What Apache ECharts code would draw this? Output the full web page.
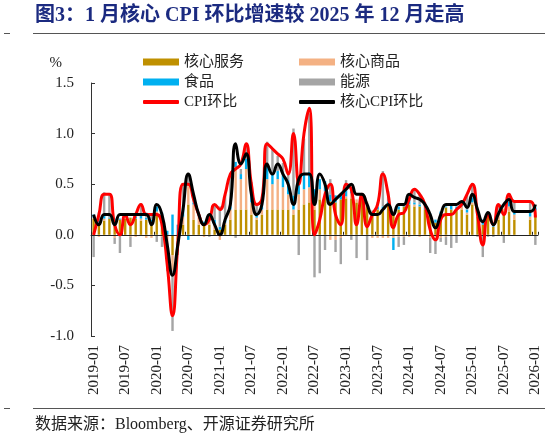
<!DOCTYPE html>
<html><head><meta charset="utf-8">
<script src="https://cdn.jsdelivr.net/npm/echarts@6.0.0/dist/echarts.min.js"></script>
<style>html,body{margin:0;padding:0;background:#fff}#c{width:550px;height:441px}</style>
</head><body><div id="c"></div>
<script>
// categories: 2019-01 .. 2026-01
var months = [];
for (var y = 2019; y <= 2026; y++) {
  for (var m = 1; m <= 12; m++) {
    if (y === 2026 && m > 1) break;
    months.push(y + '-' + (m < 10 ? '0' + m : m));
  }
}
var yTicks = [-1.0, -0.5, 0.0, 0.5, 1.0, 1.5];

// CPI m/m (%), 2019-01 .. 2026-01 (2025-10/11 not published)
var cpiMoM = [
  0.0, 0.2, 0.4, 0.4, 0.1, 0.0, 0.2, 0.1, 0.2, 0.3, 0.2, 0.2,
  0.2, 0.1, -0.3, -0.8, -0.1, 0.5, 0.5, 0.35, 0.2, 0.1, 0.15, 0.3,
  0.25, 0.4, 0.6, 0.65, 0.7, 0.9, 0.5, 0.3, 0.35, 0.9, 0.85, 0.8,
  0.75, 0.6, 1.0, 0.5, 1.0, 1.25, 0.0, 0.15, 0.4, 0.5, 0.2, 0.1,
  0.5, 0.45, 0.1, 0.4, 0.08, 0.2, 0.3, 0.6, 0.4, 0.07, 0.2, 0.22,
  0.35, 0.45, 0.4, 0.3, 0.05, -0.05, 0.15, 0.2, 0.2, 0.25, 0.3, 0.4,
  0.5, 0.2, -0.1, 0.2, 0.1, 0.3, 0.2, 0.4, 0.33, null, null, 0.33,
  0.17
];
var coreMoM = [
  0.2, 0.1, 0.2, 0.2, 0.1, 0.2, 0.2, 0.2, 0.2, 0.2, 0.2, 0.1,
  0.3, 0.2, -0.1, -0.4, -0.1, 0.25, 0.6, 0.4, 0.2, 0.1, 0.2, 0.1,
  0.0, 0.15, 0.3, 0.9, 0.7, 0.8, 0.4, 0.2, 0.3, 0.7, 0.6, 0.7,
  0.6, 0.5, 0.3, 0.55, 0.6, 0.6, 0.3, 0.6, 0.5, 0.3, 0.35, 0.4,
  0.45, 0.5, 0.4, 0.4, 0.3, 0.2, 0.2, 0.25, 0.3, 0.2, 0.3, 0.3,
  0.4, 0.37, 0.35, 0.3, 0.2, 0.07, 0.2, 0.3, 0.3, 0.3, 0.33, 0.27,
  0.4, 0.25, 0.13, 0.22, 0.1, 0.21, 0.3, 0.35, 0.23, null, null, 0.23,
  0.3
];
// contributions (pct pt)
var coreServices = [
  0.16, 0.10, 0.14, 0.16, 0.12, 0.15, 0.16, 0.17, 0.16, 0.14, 0.15, 0.12,
  0.20, 0.18, 0.00, -0.20, -0.05, 0.10, 0.30, 0.15, 0.10, 0.10, 0.10, 0.05,
  0.05, 0.10, 0.15, 0.25, 0.25, 0.25, 0.20, 0.15, 0.20, 0.25, 0.25, 0.25,
  0.25, 0.25, 0.20, 0.25, 0.30, 0.32, 0.25, 0.35, 0.38, 0.33, 0.32, 0.35,
  0.36, 0.36, 0.32, 0.35, 0.30, 0.20, 0.25, 0.25, 0.30, 0.20, 0.25, 0.28,
  0.30, 0.28, 0.28, 0.25, 0.20, 0.12, 0.20, 0.27, 0.25, 0.25, 0.25, 0.20,
  0.30, 0.18, 0.10, 0.18, 0.08, 0.15, 0.22, 0.23, 0.15, null, null, 0.15,
  0.20
];
var coreGoods = [
  0.01, -0.02, 0.02, 0.00, -0.03, 0.00, 0.02, -0.02, -0.02, 0.02, -0.03, -0.03,
  0.03, -0.02, -0.08, -0.15, -0.03, 0.08, 0.18, 0.15, 0.08, -0.02, 0.05, 0.05,
  -0.05, 0.02, 0.10, 0.42, 0.30, 0.40, 0.12, 0.02, 0.05, 0.30, 0.25, 0.30,
  0.22, 0.15, 0.05, 0.15, 0.15, 0.15, 0.05, 0.10, 0.05, -0.05, -0.05, -0.03,
  0.02, 0.05, 0.03, 0.00, 0.03, -0.03, -0.03, -0.03, -0.03, -0.03, -0.02, -0.02,
  -0.02, 0.02, -0.02, -0.01, -0.03, -0.03, -0.03, -0.02, -0.01, 0.00, 0.03, 0.02,
  0.02, 0.02, 0.00, 0.02, 0.00, 0.05, 0.04, 0.05, 0.05, null, null, 0.03,
  0.04
];
var food = [
  0.03, 0.04, 0.04, 0.01, 0.04, 0.01, 0.01, 0.00, 0.02, 0.03, 0.02, 0.03,
  0.05, 0.04, 0.04, 0.20, 0.10, 0.08, -0.05, 0.02, 0.00, 0.03, 0.02, 0.05,
  0.03, 0.03, 0.03, 0.05, 0.05, 0.10, 0.10, 0.05, 0.10, 0.12, 0.10, 0.08,
  0.12, 0.14, 0.14, 0.13, 0.15, 0.15, 0.15, 0.10, 0.10, 0.07, 0.07, 0.05,
  0.06, 0.05, 0.00, 0.00, 0.00, 0.02, 0.03, 0.03, 0.03, -0.12, 0.03, 0.03,
  0.05, 0.02, 0.02, 0.01, 0.01, 0.03, 0.03, 0.01, 0.05, 0.03, 0.02, 0.03,
  0.05, 0.00, 0.05, 0.00, 0.03, 0.04, 0.00, 0.05, 0.03, null, null, 0.05,
  0.03
];
var energy = [
  -0.22, 0.08, 0.22, 0.22, -0.06, -0.18, 0.02, -0.10, 0.00, 0.12, 0.05, 0.05,
  -0.07, -0.10, -0.28, -0.60, -0.12, 0.25, 0.10, 0.03, 0.02, 0.00, -0.02, 0.15,
  0.20, 0.25, 0.32, -0.03, 0.05, 0.12, 0.10, 0.08, 0.02, 0.25, 0.25, 0.15,
  0.12, 0.06, 0.66, -0.20, 0.35, 0.58, -0.42, -0.38, -0.15, 0.15, -0.12, -0.26,
  0.10, -0.05, -0.23, 0.05, -0.25, 0.02, 0.04, 0.35, 0.10, 0.03, -0.10, -0.08,
  0.02, 0.13, 0.10, 0.06, -0.15, -0.16, -0.04, -0.08, -0.12, -0.08, 0.00, 0.15,
  0.12, -0.02, -0.22, -0.02, -0.02, 0.05, -0.08, 0.05, 0.10, null, null, 0.10,
  -0.10
];

var SERIF = '"Liberation Serif","Times New Roman","Noto Sans CJK SC",serif';
var CJK = '"Liberation Serif","Noto Sans CJK SC",sans-serif';

function barSeries(name, data, color) {
  return {name: name, type: 'bar', stack: 'contrib', data: data, barWidth: '46%',
    itemStyle: {color: color}, color: color, z: 1, silent: true};
}
function lineSeries(name, data, color) {
  return {name: name, type: 'line', data: data, smooth: true, showSymbol: false, symbol: 'none',
    connectNulls: true, color: color, lineStyle: {color: color, width: 3}, z: 4, silent: true};
}
function legendItem(name, left, top, isLine) {
  return {data: [name], left: left, top: top, padding: 0, selectedMode: false,
    itemWidth: 36, itemHeight: isLine ? 4 : 7, itemGap: 5,
    icon: isLine ? 'roundRect' : 'rect',
    textStyle: {fontFamily: CJK, fontSize: 15, color: '#222', lineHeight: 16}};
}

var chart = echarts.init(document.getElementById('c'), null, {renderer: 'canvas'});
chart.setOption({
  animation: false,
  backgroundColor: '#fff',
  grid: {left: 91, right: 12, top: 83, bottom: 105},
  legend: [
    legendItem('核心服务', 143, 54, false),
    legendItem('核心商品', 299, 54, false),
    legendItem('食品', 143, 74, false),
    legendItem('能源', 299, 74, false),
    legendItem('CPI环比', 143, 94, true),
    legendItem('核心CPI环比', 299, 94, true)
  ],
  xAxis: [
    {type: 'category', data: months, boundaryGap: true, position: 'bottom',
      axisLine: {show: false, onZero: false}, axisTick: {show: false},
      axisLabel: {rotate: 90, interval: 5, fontFamily: SERIF, fontSize: 15, color: '#222', margin: 9},
      splitLine: {show: false}},
    {type: 'category', data: months, boundaryGap: true, position: 'top', z: 2,
      axisLine: {show: true, onZero: true, lineStyle: {color: '#222', width: 1}},
      axisTick: {show: true, interval: 5, length: 3, lineStyle: {color: '#222'}},
      axisLabel: {show: false}, splitLine: {show: false}}
  ],
  yAxis: {
    type: 'value', min: yTicks[0], max: yTicks[yTicks.length - 1], interval: 0.5,
    name: '%', nameLocation: 'end', nameGap: 12,
    nameTextStyle: {fontFamily: SERIF, fontSize: 15, color: '#222', align: 'right', padding: [0, 29, 0, 0]},
    axisLine: {show: true, lineStyle: {color: '#333'}},
    axisTick: {show: true, inside: true, length: 4, lineStyle: {color: '#333'}},
    axisLabel: {fontFamily: SERIF, fontSize: 15, color: '#222', margin: 17,
      formatter: function (v) { return v.toFixed(1); }},
    splitLine: {show: false}
  },
  series: [
    barSeries('核心服务', coreServices, '#BF9000'),
    barSeries('核心商品', coreGoods, '#F4B183'),
    barSeries('食品', food, '#00B0F0'),
    barSeries('能源', energy, '#A5A5A5'),
    lineSeries('CPI环比', cpiMoM, '#FF0000'),
    lineSeries('核心CPI环比', coreMoM, '#000000')
  ],
  graphic: [
    {type: 'text', left: 35, top: 6, style: {text: '图3：1 月核心 CPI 环比增速较 2025 年 12 月走高',
      font: 'bold 20px ' + CJK, fill: '#1b2a80'}},
    {type: 'line', shape: {x1: 33, y1: 33.5, x2: 545, y2: 33.5}, style: {stroke: '#555', lineWidth: 1}},
    {type: 'line', shape: {x1: 4, y1: 33.5, x2: 10, y2: 33.5}, style: {stroke: '#555', lineWidth: 1}},
    {type: 'line', shape: {x1: 33, y1: 408.5, x2: 545, y2: 408.5}, style: {stroke: '#555', lineWidth: 1}},
    {type: 'line', shape: {x1: 4, y1: 408.5, x2: 10, y2: 408.5}, style: {stroke: '#555', lineWidth: 1}},
    {type: 'text', left: 35, top: 417, style: {text: '数据来源：Bloomberg、开源证券研究所',
      font: '16px ' + CJK, fill: '#222'}}
  ]
});
</script></body></html>
